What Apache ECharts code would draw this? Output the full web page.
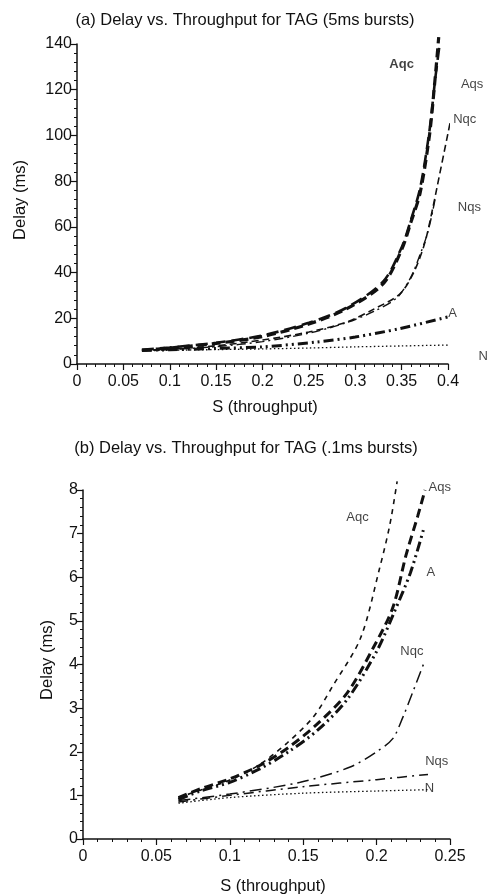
<!DOCTYPE html>
<html>
<head>
<meta charset="utf-8">
<script src="https://cdn.jsdelivr.net/npm/echarts@6/dist/echarts.min.js"></script>
<style>
html,body{margin:0;padding:0;background:#fff;}
#c{width:487px;height:896px;}
</style>
</head>
<body>
<div id="c"></div>
<script>
// ---------- Data: (a) 5ms bursts ----------
const titleA = "(a) Delay vs. Throughput for TAG (5ms bursts)";
const titleB = "(b) Delay vs. Throughput for TAG (.1ms bursts)";
const xTicksA = [0, 0.4, 0.05];
const yTicksA = [0, 140, 20];
const xTicksB = [0, 0.25, 0.05];
const yTicksB = [0, 8, 1];

const aqcA = [[0.07,6],[0.1,7],[0.15,9],[0.2,12],[0.25,17.5],[0.29,24],[0.33,35],[0.35,50],[0.36,62],[0.37,75],[0.38,100],[0.385,120],[0.39,143]];
const aqsA = [[0.07,6.2],[0.1,7.2],[0.15,9.3],[0.2,12.5],[0.25,18],[0.29,24.5],[0.33,36],[0.35,51],[0.36,63],[0.37,77],[0.38,102],[0.386,124],[0.391,140]];
const nqcA = [[0.07,6],[0.1,6.5],[0.15,8],[0.2,10.5],[0.25,14],[0.291,18.4],[0.32,24],[0.348,30.6],[0.363,40],[0.375,53],[0.384,69],[0.388,77],[0.4,101],[0.403,107]];
const nqsA = [[0.07,5.8],[0.1,6.3],[0.15,7.6],[0.2,9.8],[0.25,13.5],[0.29,18],[0.32,23],[0.345,29],[0.36,38],[0.37,48],[0.377,56],[0.382,64],[0.386,72]];
const aA   = [[0.07,6],[0.1,6.2],[0.15,6.8],[0.2,7.5],[0.258,9.6],[0.3,11.8],[0.348,15.5],[0.4,20.6]];
const nA   = [[0.07,5.8],[0.1,6.0],[0.15,6.3],[0.2,6.6],[0.25,7.0],[0.3,7.5],[0.35,7.9],[0.4,8.3]];
const labelsA = [["Aqc",0.35,131],["Aqs",0.426,122.5],["Nqc",0.418,107],["Nqs",0.423,68.7],["A",0.405,22],["N",0.438,3.5]];

// ---------- Data: (b) .1ms bursts ----------
const aqcB = [[0.065,0.95],[0.08,1.12],[0.1,1.35],[0.12,1.7],[0.139,2.2],[0.157,2.8],[0.17,3.5],[0.189,4.6],[0.202,6.2],[0.209,7.2],[0.214,8.2]];
const aqsB = [[0.065,0.95],[0.08,1.15],[0.1,1.38],[0.12,1.68],[0.14,2.1],[0.16,2.65],[0.18,3.35],[0.198,4.4],[0.211,5.3],[0.22,6.5],[0.228,7.4],[0.233,8.0]];
const aB   = [[0.065,0.9],[0.08,1.1],[0.1,1.3],[0.12,1.6],[0.14,2.0],[0.16,2.5],[0.18,3.2],[0.2,4.3],[0.212,5.2],[0.223,6.1],[0.232,7.1]];
const nqcB = [[0.065,0.88],[0.1,1.03],[0.148,1.3],[0.182,1.65],[0.2,2.0],[0.211,2.3],[0.218,2.8],[0.225,3.4],[0.233,4.1]];
const nqsB = [[0.065,0.85],[0.1,1.0],[0.15,1.2],[0.2,1.36],[0.235,1.48]];
const nB   = [[0.065,0.82],[0.1,0.95],[0.15,1.05],[0.2,1.1],[0.235,1.13]];
const labelsB = [["Aqs",0.243,8.05],["Aqc",0.187,7.36],["A",0.237,6.12],["Nqc",0.224,4.29],["Nqs",0.241,1.77],["N",0.236,1.17]];

const FONT = "Liberation Sans, Arial, Helvetica, sans-serif";
const chart = echarts.init(document.getElementById('c'), null, {renderer:'canvas'});

function xAxis(gi, t){
  return {type:'value', gridIndex:gi, min:t[0], max:t[1], interval:t[2],
    axisLine:{onZero:false, lineStyle:{color:'#111', width:1.5}},
    axisTick:{length:6, lineStyle:{color:'#111', width:1.2}},
    minorTick:{show:true, splitNumber:5, length:3, lineStyle:{color:'#111', width:1}},
    splitLine:{show:false},
    axisLabel:{color:'#111', fontSize:16, fontFamily:FONT, margin:10,
      formatter:v=>String(+v.toFixed(2))}};
}
function yAxis(gi, t){
  return {type:'value', gridIndex:gi, min:t[0], max:t[1], interval:t[2],
    axisLine:{show:true, onZero:false, lineStyle:{color:'#111', width:1.5}},
    axisTick:{show:true, length:6, lineStyle:{color:'#111', width:1.2}},
    minorTick:{show:true, splitNumber:5, length:3, lineStyle:{color:'#111', width:1}},
    splitLine:{show:false},
    axisLabel:{color:'#111', fontSize:16, fontFamily:FONT, margin:5}};
}
function line(name, data, gi, type, width){
  return {name, type:'line', xAxisIndex:gi, yAxisIndex:gi, data, showSymbol:false, symbol:'none',
    smooth:0.3, clip:false, lineStyle:{color:'#111', width, type}};
}
function labels(arr, gi){
  return {type:'scatter', xAxisIndex:gi, yAxisIndex:gi, symbolSize:0, clip:false,
    data:arr.map(a=>({value:[a[1],a[2]], name:a[0],
      label:{fontWeight:(gi===0 && a[0]==='Aqc')?'bold':'normal'}})),
    label:{show:true, position:'inside', formatter:p=>p.name, color:'#111', fontSize:13, fontFamily:FONT}};
}

const dashThick = [9,5];
const dashThin = [7,4];
const dashDot = [9,4,2,4];
const dashDotDot = [10,4,2,4,2,4];
const dotted = [1.5,2.5];

chart.setOption({
  animation:false,
  backgroundColor:'#fff',
  grid:[
    {left:77, right:39, top:44, height:320},
    {left:83, right:37, top:490, bottom:57}
  ],
  xAxis:[xAxis(0,xTicksA), xAxis(1,xTicksB)],
  yAxis:[yAxis(0,yTicksA), yAxis(1,yTicksB)],
  graphic:[
    {type:'text', x:245, y:20, style:{text:titleA, fontSize:16.5, fontFamily:FONT, fill:'#111', textAlign:'center', textVerticalAlign:'middle'}},
    {type:'text', x:246, y:448, style:{text:titleB, fontSize:16.5, fontFamily:FONT, fill:'#111', textAlign:'center', textVerticalAlign:'middle'}},
    {type:'text', x:20, y:200, rotation:Math.PI/2, style:{text:'Delay (ms)', fontSize:16.5, fontFamily:FONT, fill:'#111', textAlign:'center', textVerticalAlign:'middle'}},
    {type:'text', x:47, y:660, rotation:Math.PI/2, style:{text:'Delay (ms)', fontSize:16.5, fontFamily:FONT, fill:'#111', textAlign:'center', textVerticalAlign:'middle'}},
    {type:'text', x:265, y:407, style:{text:'S (throughput)', fontSize:16.5, fontFamily:FONT, fill:'#111', textAlign:'center', textVerticalAlign:'middle'}},
    {type:'text', x:273, y:886, style:{text:'S (throughput)', fontSize:16.5, fontFamily:FONT, fill:'#111', textAlign:'center', textVerticalAlign:'middle'}}
  ],
  series:[
    line('Aqc', aqcA, 0, dashThick, 3.2),
    line('Aqs', aqsA, 0, [12,6], 2.6),
    line('Nqc', nqcA, 0, dashThin, 1.6),
    line('Nqs', nqsA, 0, dashDot, 1.4),
    line('A', aA, 0, dashDotDot, 3),
    line('N', nA, 0, dotted, 1.3),
    labels(labelsA, 0),
    line('Aqc', aqcB, 1, [5,5], 1.6),
    line('Aqs', aqsB, 1, dashThick, 3),
    line('A', aB, 1, dashDotDot, 3),
    line('Nqc', nqcB, 1, [12,5,2,5], 1.5),
    line('Nqs', nqsB, 1, [10,5,2,5], 1.5),
    line('N', nB, 1, dotted, 1.3),
    labels(labelsB, 1)
  ]
});
</script>
</body>
</html>
